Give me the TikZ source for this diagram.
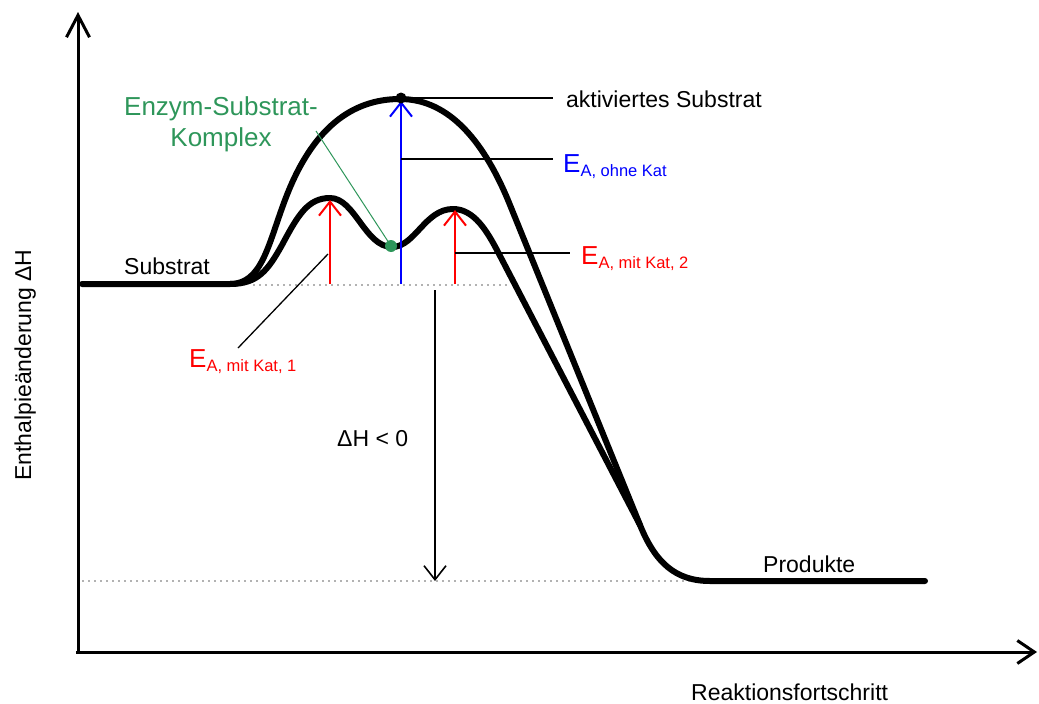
\documentclass[tikz,border=0pt]{standalone}
\usepackage{fontspec}
\setmainfont{Liberation Sans}
\usetikzlibrary{arrows.meta}
\definecolor{enzgreen}{RGB}{46,150,90}
\begin{document}
\begin{tikzpicture}[x=1pt,y=-1pt,
  curve/.style={line width=6pt, line join=round, line cap=round},
  axisline/.style={line width=3pt},
  barb/.style={-{Straight Barb[length=14pt,width=22pt]}},
  leader/.style={line width=1.3pt},
  dotline/.style={gray!60, line width=2pt, dash pattern=on 2pt off 4pt},
  lab/.style={inner sep=0pt, font=\fontsize{23}{27}\selectfont},
  biglab/.style={inner sep=0pt, font=\fontsize{26}{30}\selectfont},
  sub/.style={},
]
\useasboundingbox (0,0) rectangle (1039,704);

% axes
\coordinate (origin) at (78,652);
\coordinate (ytip) at (78,12);
\coordinate (xtip) at (1037,652);
\draw[axisline, -{Straight Barb[length=22pt,width=23pt]}] (78,654) -- (ytip);
\draw[axisline, -{Straight Barb[length=17pt,width=23pt]}] (76,652) -- (xtip);

% dotted reference levels
\draw[dotline] (253,285) -- (510,285);
\draw[dotline] (82,581) -- (700,581);

% uncatalysed curve
\draw[curve] (82,284) -- (230,284)
  .. controls (262,284) and (268,245) .. (285,200)
  .. controls (312,128) and (352,99) .. (400,99)
  .. controls (450,99) and (485,143) .. (510,205)
  -- (640,525)
  .. controls (655,562) and (675,581) .. (710,581) -- (925,581);

% catalysed curve
\draw[curve] (230,284)
  .. controls (258,284) and (268,270) .. (282,245)
  .. controls (298,215) and (308,198) .. (330,198)
  .. controls (355,198) and (365,247) .. (392,247)
  .. controls (415,247) and (425,209) .. (453,209)
  .. controls (474,209) and (487,231) .. (498,252)
  -- (640,525);

% activation arrows
\coordinate (r1b) at (330,284); \coordinate (r1t) at (330,200);
\coordinate (r2b) at (455,284); \coordinate (r2t) at (455,210);
\coordinate (bb) at (401,284);  \coordinate (bt) at (401,101);
\draw[red, line width=2pt, barb] (r1b) -- (r1t);
\draw[red, line width=2pt, barb] (r2b) -- (r2t);
\draw[blue, line width=2pt, barb] (bb) -- (bt);

% delta H arrow
\coordinate (dhtop) at (435,290);
\coordinate (dhbot) at (435,581);
\draw[line width=1.6pt, barb] (dhtop) -- (dhbot);

% dots
\fill (401,98) circle (5.5pt) coordinate (peak);
\fill[enzgreen] (391,246) circle (6pt) coordinate (esdot);

% labels
\node[lab, anchor=base west] (akt) at (566,107) {aktiviertes Substrat};
\node[biglab, blue, anchor=base west] (eohne) at (563,172) {E\fontsize{16.5}{19}\selectfont\raisebox{-4pt}{A, ohne Kat}};
\node[biglab, red, anchor=base west] (ek2) at (581,264) {E\fontsize{16.5}{19}\selectfont\raisebox{-4pt}{A, mit Kat, 2}};
\node[biglab, red, anchor=base west] (ek1) at (189,367) {E\fontsize{16.5}{19}\selectfont\raisebox{-4pt}{A, mit Kat, 1}};
\node[biglab, enzgreen, anchor=base] (es1) at (221,115) {Enzym-Substrat-};
\node[biglab, enzgreen, anchor=base] (es2) at (221,146) {Komplex};
\node[lab, anchor=base west] (subs) at (124,274) {Substrat};
\node[lab, anchor=base west] (prod) at (763,572) {Produkte};
\node[lab, anchor=base west] (dh) at (337,446) {ΔH < 0};
\node[lab, anchor=base west] (xlab) at (691,700) {Reaktionsfortschritt};
\node[lab, anchor=base west, rotate=90] (ylab) at (31,481) {Enthalpieänderung ΔH};

% leader lines
\coordinate (l1e) at (553,98);
\coordinate (l2s) at (401,159); \coordinate (l2e) at (553,159);
\coordinate (l3s) at (455,253); \coordinate (l3e) at (570,253);
\coordinate (l4s) at (328,254); \coordinate (l4e) at (238,348);
\coordinate (gs) at (316,131);
\draw[leader] (peak) -- (l1e);
\draw[leader] (l2s) -- (l2e);
\draw[leader] (l3s) -- (l3e);
\draw[leader] (l4s) -- (l4e);
\draw[enzgreen, line width=1pt] (gs) -- (esdot);
\end{tikzpicture}
\end{document}
